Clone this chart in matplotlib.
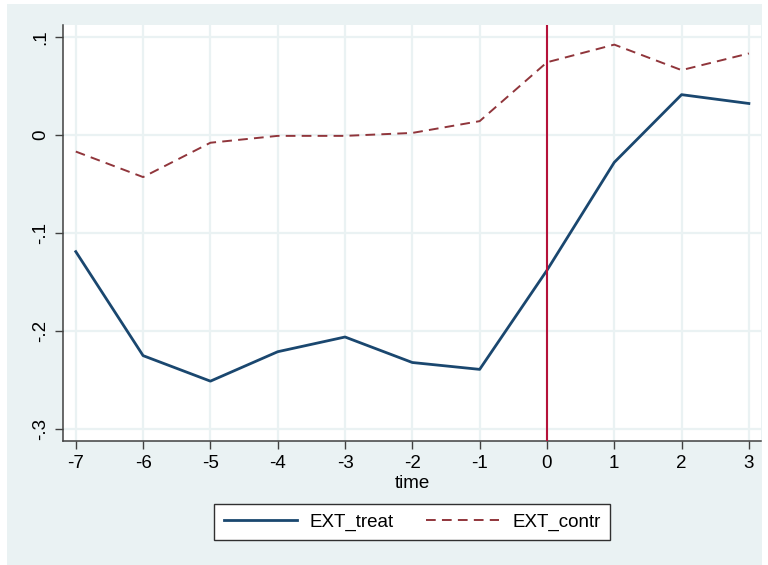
import numpy as np
import matplotlib.pyplot as plt
from matplotlib.patches import Rectangle

plt.rcParams['font.family'] = ['Liberation Sans', 'DejaVu Sans']

time = [-7, -6, -5, -4, -3, -2, -1, 0, 1, 2, 3]
ext_treat = [-0.119, -0.225, -0.251, -0.221, -0.206, -0.232, -0.239, -0.138, -0.028, 0.041, 0.032]
ext_contr = [-0.017, -0.043, -0.008, -0.001, -0.001, 0.002, 0.014, 0.074, 0.092, 0.066, 0.083]
yticks = [-0.3, -0.2, -0.1, 0, 0.1]
ytick_labels = ["-.3", "-.2", "-.1", "0", ".1"]

bg = "#EAF2F3"
axis_col = "#404040"
fs = 13.5

fig = plt.figure(figsize=(7.68, 5.65), dpi=100)
fig.patch.set_facecolor("white")
# graph region background
fig.patches.append(Rectangle((7 / 768, 0), (762 - 7) / 768, 1 - 4 / 565,
                             transform=fig.transFigure, facecolor=bg,
                             edgecolor="none", zorder=-10))

ax = fig.add_axes([63 / 768, 1 - 441 / 565, (761 - 63) / 768, (441 - 25) / 565])
ax.set_facecolor("white")

ax.plot(time, ext_treat, color="#1A476F", lw=2.0, label="EXT_treat", zorder=3)
ax.plot(time, ext_contr, color="#90353B", lw=1.4, dashes=(5, 3.2),
        label="EXT_contr", zorder=3)
ax.axvline(0, color="#B5123A", lw=1.5, zorder=4)

ax.set_xlim(-7.19, 3.18)
ax.set_ylim(-0.312, 0.112)
ax.set_xticks(time)
ax.set_xticklabels([str(t) for t in time])
ax.set_yticks(yticks)
ax.set_yticklabels(ytick_labels, rotation=90, va="center")

ax.grid(True, color=bg, lw=1.6, zorder=0)
ax.set_axisbelow(True)

for side in ("top", "right"):
    ax.spines[side].set_visible(False)
for side in ("left", "bottom"):
    ax.spines[side].set_color(axis_col)
    ax.spines[side].set_linewidth(1.1)

ax.tick_params(axis="both", length=6, width=1.0, color=axis_col,
               labelsize=fs, pad=4)
ax.set_xlabel("time", fontsize=fs, labelpad=2)

leg = fig.legend(loc="center", bbox_to_anchor=(412 / 768, 1 - 522 / 565),
                 ncol=2, fontsize=fs, frameon=True, fancybox=False,
                 framealpha=1, handlelength=3.9, columnspacing=1.7,
                 handletextpad=0.7, borderpad=0.5)
leg.get_frame().set_facecolor("white")
leg.get_frame().set_edgecolor("#303030")
leg.get_frame().set_linewidth(1.0)

fig.savefig("out.png", dpi=100, facecolor=fig.get_facecolor())
